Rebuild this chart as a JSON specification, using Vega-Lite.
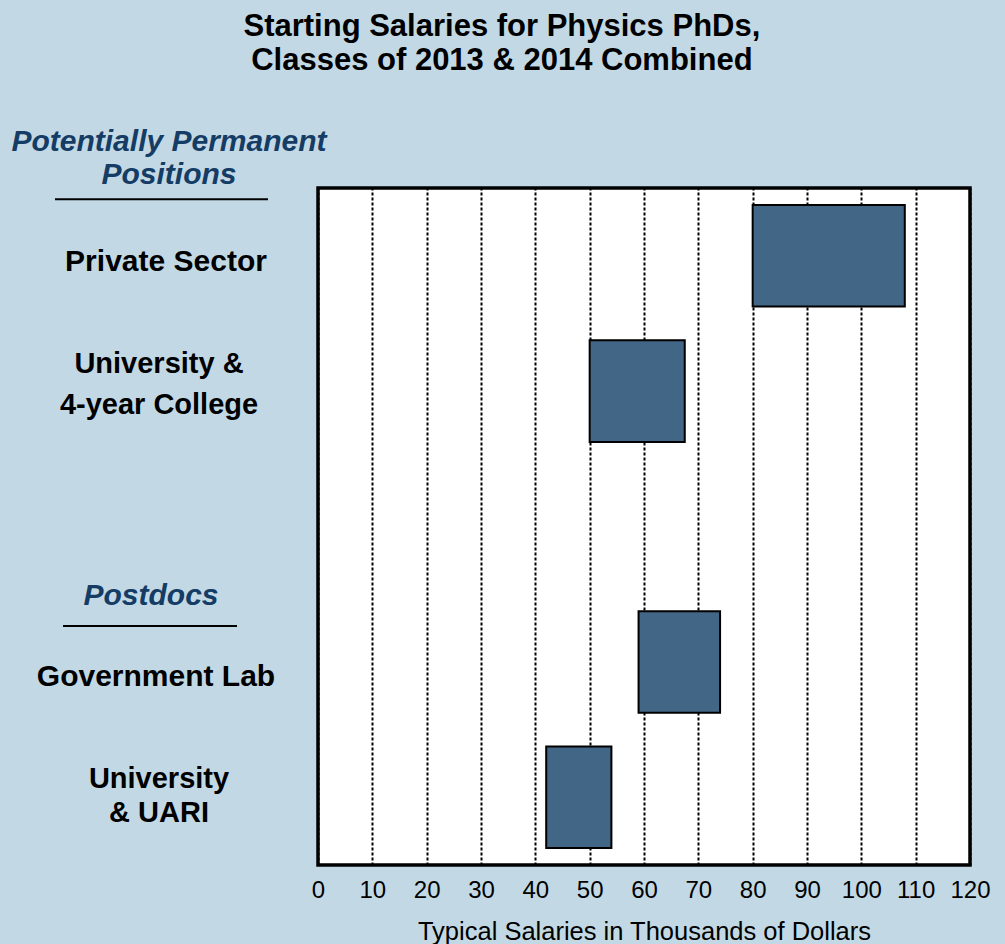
{
  "$schema": "https://vega.github.io/schema/vega-lite/v6.json",
  "background": "#C2D9E5",
  "padding": {"left": 0, "top": 11, "right": 15, "bottom": 0},
  "bounds": "flush",
  "spacing": 0,
  "title": {
    "text": ["Starting Salaries for Physics PhDs,", "Classes of 2013 & 2014 Combined"],
    "font": "Liberation Sans",
    "fontSize": 31,
    "fontWeight": "bold",
    "color": "black",
    "anchor": "middle",
    "lineHeight": 34,
    "offset": 50,
    "dx": 6
  },
  "datasets": {
    "salaries": [
      {"category": "Private Sector", "label": "Private Sector", "low": 80, "high": 108},
      {"category": "University & 4-year College", "label": "University &\n4-year College", "low": 50, "high": 67.5},
      {"category": "Government Lab", "label": "Government Lab", "low": 59, "high": 74},
      {"category": "University & UARI", "label": "University\n& UARI", "low": 42, "high": 54}
    ],
    "headings": [
      {"category": "Private Sector", "heading": "Potentially Permanent\nPositions", "group": "permanent"},
      {"category": "Government Lab", "heading": "Postdocs", "group": "postdocs"}
    ]
  },
  "hconcat": [
    {
      "width": 318,
      "height": 677,
      "view": {"stroke": null},
      "layer": [
        {
          "data": {"name": "salaries"},
          "transform": [{"filter": "datum.category === 'Private Sector'"}],
          "mark": {"type": "text", "font": "Liberation Sans", "fontSize": 30, "fontWeight": "bold", "color": "black", "align": "center", "baseline": "middle", "dx": 7, "yOffset": 6.5},
          "encoding": {
            "y": {"field": "category", "type": "nominal", "scale": {"domain": ["Private Sector", "University & 4-year College", "(gap)", "Government Lab", "University & UARI"], "paddingInner": 0.25, "paddingOuter": 0.125}, "axis": null},
            "text": {"field": "label"}
          }
        },
        {
          "data": {"name": "salaries"},
          "transform": [{"filter": "datum.category === 'University & 4-year College'"}],
          "mark": {"type": "text", "font": "Liberation Sans", "fontSize": 29, "fontWeight": "bold", "color": "black", "lineBreak": "\n", "lineHeight": 41, "align": "center", "baseline": "middle", "yOffset": -27.5},
          "encoding": {
            "y": {"field": "category", "type": "nominal"},
            "text": {"field": "label"}
          }
        },
        {
          "data": {"name": "salaries"},
          "transform": [{"filter": "datum.category === 'Government Lab'"}],
          "mark": {"type": "text", "font": "Liberation Sans", "fontSize": 30, "fontWeight": "bold", "color": "black", "align": "center", "baseline": "middle", "dx": -3, "yOffset": 15.5},
          "encoding": {
            "y": {"field": "category", "type": "nominal"},
            "text": {"field": "label"}
          }
        },
        {
          "data": {"name": "salaries"},
          "transform": [{"filter": "datum.category === 'University & UARI'"}],
          "mark": {"type": "text", "font": "Liberation Sans", "fontSize": 29, "fontWeight": "bold", "color": "black", "lineBreak": "\n", "lineHeight": 34, "align": "center", "baseline": "middle", "yOffset": -18},
          "encoding": {
            "y": {"field": "category", "type": "nominal"},
            "text": {"field": "label"}
          }
        },
        {
          "data": {"name": "headings"},
          "transform": [{"filter": "datum.group === 'permanent'"}],
          "mark": {"type": "text", "font": "Liberation Sans", "fontSize": 30, "fontWeight": "bold", "fontStyle": "italic", "color": "#143C64", "lineBreak": "\n", "lineHeight": 33, "align": "center", "baseline": "middle", "dx": 10, "yOffset": -113.5},
          "encoding": {
            "y": {"field": "category", "type": "nominal"},
            "text": {"field": "heading"}
          }
        },
        {
          "data": {"name": "headings"},
          "transform": [{"filter": "datum.group === 'postdocs'"}],
          "mark": {"type": "text", "font": "Liberation Sans", "fontSize": 30, "fontWeight": "bold", "fontStyle": "italic", "color": "#143C64", "align": "center", "baseline": "middle", "dx": -8, "yOffset": -66},
          "encoding": {
            "y": {"field": "category", "type": "nominal"},
            "text": {"field": "heading"}
          }
        },
        {
          "data": {"name": "headings"},
          "transform": [{"filter": "datum.group === 'permanent'"}],
          "mark": {"type": "rule", "color": "black", "strokeWidth": 2, "x": 55, "x2": 268, "yOffset": -56.5},
          "encoding": {
            "y": {"field": "category", "type": "nominal"}
          }
        },
        {
          "data": {"name": "headings"},
          "transform": [{"filter": "datum.group === 'postdocs'"}],
          "mark": {"type": "rule", "color": "black", "strokeWidth": 2, "x": 63, "x2": 237, "yOffset": -36},
          "encoding": {
            "y": {"field": "category", "type": "nominal"}
          }
        }
      ]
    },
    {
      "width": 652,
      "height": 677,
      "view": {"fill": "white", "stroke": "black", "strokeWidth": 3.5},
      "data": {"name": "salaries"},
      "mark": {"type": "bar", "fill": "#426685", "stroke": "black", "strokeWidth": 2},
      "encoding": {
        "y": {"field": "category", "type": "nominal", "scale": {"domain": ["Private Sector", "University & 4-year College", "(gap)", "Government Lab", "University & UARI"], "paddingInner": 0.25, "paddingOuter": 0.125}, "axis": null},
        "x": {
          "field": "low",
          "type": "quantitative",
          "scale": {"domain": [0, 120], "nice": false},
          "axis": {
            "values": [0, 10, 20, 30, 40, 50, 60, 70, 80, 90, 100, 110, 120],
            "grid": true,
            "gridColor": "black",
            "gridDash": [3, 2],
            "gridWidth": 2,
            "gridOpacity": 1,
            "ticks": false,
            "domain": false,
            "labelFont": "Liberation Sans",
            "labelFontSize": 24,
            "labelColor": "black",
            "labelPadding": 13,
            "labelFlush": false,
            "labelOverlap": false,
            "title": "Typical Salaries in Thousands of Dollars",
            "titleFont": "Liberation Sans",
            "titleFontSize": 25.5,
            "titleFontWeight": "normal",
            "titleColor": "black",
            "titlePadding": 17
          }
        },
        "x2": {"field": "high"}
      }
    }
  ],
  "config": {
    "font": "Liberation Sans"
  }
}
